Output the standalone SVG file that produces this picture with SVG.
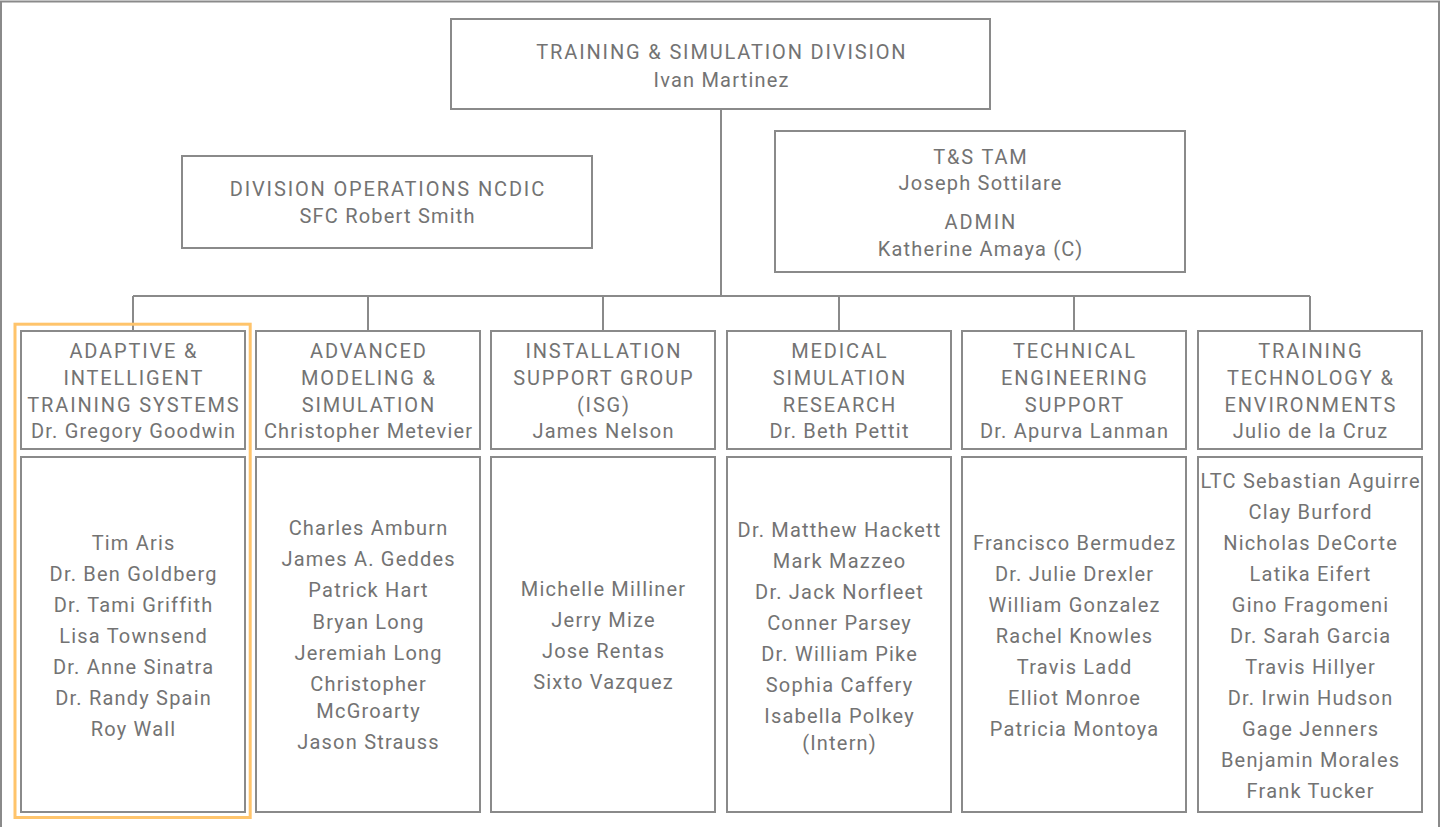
<svg xmlns="http://www.w3.org/2000/svg" width="1441" height="827" viewBox="0 0 1441 827">
<style>
  .box { fill: #ffffff; stroke: #8a8a8a; stroke-width: 2; }
  .line { fill: none; stroke: #8a8a8a; stroke-width: 2; }
  .hl { fill: none; stroke: #ffc46b; stroke-width: 3; }
  text { font-family: Roboto, "Liberation Sans", sans-serif; font-size: 20px; fill: #737373; text-anchor: middle; }
  .cap { letter-spacing: 1.85px; }
  .nm { letter-spacing: 1.2px; }
</style>
<rect x="0" y="0" width="1441" height="827" fill="#ffffff"/>
<rect x="1" y="1.5" width="1438" height="840" class="line"/>

<g id="connectors">
  <path class="line" d="M721 109 V296 M133 296 H1310 M133 296 V331 M368 296 V331 M603 296 V331 M839 296 V331 M1074 296 V331 M1310 296 V331"/>
</g>

<g id="division">
  <rect class="box" x="451" y="19" width="539" height="90"/>
  <text class="cap" x="721.9" y="59.3">TRAINING &amp; SIMULATION DIVISION</text>
  <text class="nm" x="721.6" y="86.7">Ivan Martinez</text>
</g>

<g id="ops">
  <rect class="box" x="182" y="156" width="410" height="92"/>
  <text class="cap" x="387.9" y="195.7">DIVISION OPERATIONS NCDIC</text>
  <text class="nm" x="387.6" y="222.7">SFC Robert Smith</text>
</g>

<g id="tam">
  <rect class="box" x="775" y="131" width="410" height="141"/>
  <text class="cap" x="980.9" y="164">T&amp;S TAM</text>
  <text class="nm" x="980.6" y="190">Joseph Sottilare</text>
  <text class="cap" x="980.9" y="229">ADMIN</text>
  <text class="nm" x="980.6" y="256">Katherine Amaya (C)</text>
</g>

<g id="aits">
  <rect class="hl" x="15" y="324.2" width="235.2" height="493.3"/>
  <rect class="box" x="21" y="331" width="224" height="118"/>
  <text class="cap" x="133.9" y="358">ADAPTIVE &amp;</text>
  <text class="cap" x="133.9" y="385">INTELLIGENT</text>
  <text class="cap" x="133.9" y="411.5">TRAINING SYSTEMS</text>
  <text class="nm" x="133.6" y="438">Dr. Gregory Goodwin</text>
  <rect class="box" x="21" y="457" width="224" height="355"/>
  <text class="nm" x="133.6" y="549.5">Tim Aris</text>
  <text class="nm" x="133.6" y="580.5">Dr. Ben Goldberg</text>
  <text class="nm" x="133.6" y="611.5">Dr. Tami Griffith</text>
  <text class="nm" x="133.6" y="642.5">Lisa Townsend</text>
  <text class="nm" x="133.6" y="673.5">Dr. Anne Sinatra</text>
  <text class="nm" x="133.6" y="704.5">Dr. Randy Spain</text>
  <text class="nm" x="133.6" y="735.5">Roy Wall</text>
</g>

<g id="ams">
  <rect class="box" x="256" y="331" width="224" height="118"/>
  <text class="cap" x="368.9" y="358">ADVANCED</text>
  <text class="cap" x="368.9" y="385">MODELING &amp;</text>
  <text class="cap" x="368.9" y="411.5">SIMULATION</text>
  <text class="nm" x="368.6" y="438">Christopher Metevier</text>
  <rect class="box" x="256" y="457" width="224" height="355"/>
  <text class="nm" x="368.6" y="535.3">Charles Amburn</text>
  <text class="nm" x="368.6" y="566.3">James A. Geddes</text>
  <text class="nm" x="368.6" y="597.3">Patrick Hart</text>
  <text class="nm" x="368.6" y="628.5">Bryan Long</text>
  <text class="nm" x="368.6" y="660">Jeremiah Long</text>
  <text class="nm" x="368.6" y="691">Christopher</text>
  <text class="nm" x="368.6" y="718.3">McGroarty</text>
  <text class="nm" x="368.6" y="749.3">Jason Strauss</text>
</g>

<g id="isg">
  <rect class="box" x="491" y="331" width="224" height="118"/>
  <text class="cap" x="603.9" y="358">INSTALLATION</text>
  <text class="cap" x="603.9" y="385">SUPPORT GROUP</text>
  <text class="cap" x="603.9" y="411.5">(ISG)</text>
  <text class="nm" x="603.6" y="438">James Nelson</text>
  <rect class="box" x="491" y="457" width="224" height="355"/>
  <text class="nm" x="603.6" y="596">Michelle Milliner</text>
  <text class="nm" x="603.6" y="627">Jerry Mize</text>
  <text class="nm" x="603.6" y="658">Jose Rentas</text>
  <text class="nm" x="603.6" y="689">Sixto Vazquez</text>
</g>

<g id="msr">
  <rect class="box" x="727" y="331" width="224" height="118"/>
  <text class="cap" x="839.9" y="358">MEDICAL</text>
  <text class="cap" x="839.9" y="385">SIMULATION</text>
  <text class="cap" x="839.9" y="411.5">RESEARCH</text>
  <text class="nm" x="839.6" y="438">Dr. Beth Pettit</text>
  <rect class="box" x="727" y="457" width="224" height="355"/>
  <text class="nm" x="839.6" y="536.7">Dr. Matthew Hackett</text>
  <text class="nm" x="839.6" y="567.8">Mark Mazzeo</text>
  <text class="nm" x="839.6" y="598.9">Dr. Jack Norfleet</text>
  <text class="nm" x="839.6" y="630">Conner Parsey</text>
  <text class="nm" x="839.6" y="661.1">Dr. William Pike</text>
  <text class="nm" x="839.6" y="692.2">Sophia Caffery</text>
  <text class="nm" x="839.6" y="723.3">Isabella Polkey</text>
  <text class="nm" x="839.6" y="749.5">(Intern)</text>
</g>

<g id="tes">
  <rect class="box" x="962" y="331" width="224" height="118"/>
  <text class="cap" x="1074.9" y="358">TECHNICAL</text>
  <text class="cap" x="1074.9" y="385">ENGINEERING</text>
  <text class="cap" x="1074.9" y="411.5">SUPPORT</text>
  <text class="nm" x="1074.6" y="438">Dr. Apurva Lanman</text>
  <rect class="box" x="962" y="457" width="224" height="355"/>
  <text class="nm" x="1074.6" y="549.5">Francisco Bermudez</text>
  <text class="nm" x="1074.6" y="580.5">Dr. Julie Drexler</text>
  <text class="nm" x="1074.6" y="611.5">William Gonzalez</text>
  <text class="nm" x="1074.6" y="642.5">Rachel Knowles</text>
  <text class="nm" x="1074.6" y="673.5">Travis Ladd</text>
  <text class="nm" x="1074.6" y="704.5">Elliot Monroe</text>
  <text class="nm" x="1074.6" y="735.5">Patricia Montoya</text>
</g>

<g id="tte">
  <rect class="box" x="1198" y="331" width="224" height="118"/>
  <text class="cap" x="1310.9" y="358">TRAINING</text>
  <text class="cap" x="1310.9" y="385">TECHNOLOGY &amp;</text>
  <text class="cap" x="1310.9" y="411.5">ENVIRONMENTS</text>
  <text class="nm" x="1310.6" y="438">Julio de la Cruz</text>
  <rect class="box" x="1198" y="457" width="224" height="355"/>
  <text class="nm" x="1310.6" y="487.5">LTC Sebastian Aguirre</text>
  <text class="nm" x="1310.6" y="518.5">Clay Burford</text>
  <text class="nm" x="1310.6" y="549.5">Nicholas DeCorte</text>
  <text class="nm" x="1310.6" y="580.5">Latika Eifert</text>
  <text class="nm" x="1310.6" y="611.5">Gino Fragomeni</text>
  <text class="nm" x="1310.6" y="642.5">Dr. Sarah Garcia</text>
  <text class="nm" x="1310.6" y="673.5">Travis Hillyer</text>
  <text class="nm" x="1310.6" y="704.5">Dr. Irwin Hudson</text>
  <text class="nm" x="1310.6" y="735.5">Gage Jenners</text>
  <text class="nm" x="1310.6" y="766.5">Benjamin Morales</text>
  <text class="nm" x="1310.6" y="797.5">Frank Tucker</text>
</g>
</svg>
